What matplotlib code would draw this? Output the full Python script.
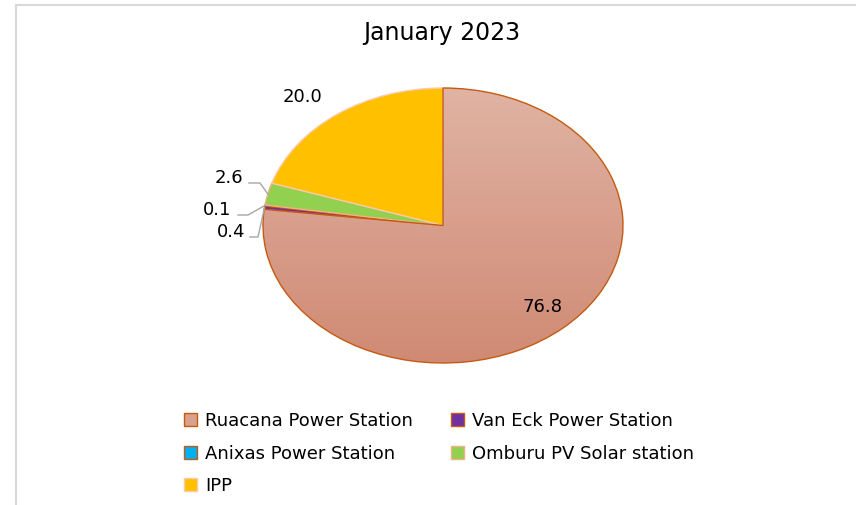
import numpy as np
import matplotlib
matplotlib.use("Agg")
import matplotlib.pyplot as plt
from matplotlib.lines import Line2D

plt.rcParams['font.family'] = ['DejaVu Sans']

title = "January 2023"
categories = ["Ruacana Power Station", "Van Eck Power Station", "Anixas Power Station",
              "Omburu PV Solar station", "IPP"]
values = [76.8, 0.4, 0.1, 2.6, 20.0]
labels = ["76.8", "0.4", "0.1", "2.6", "20.0"]
colors = ["#D9A08C", "#7030A0", "#00B0F0", "#92D050", "#FFC000"]
edges = ["#C55A11", "#C55A11", "#C55A11", "#F4B183", "#F8CBAD"]

W, H = 856, 505
fig = plt.figure(figsize=(W / 100, H / 100), dpi=100)

# border lines (left and top)
fig.add_artist(Line2D([16 / W, 16 / W], [0, 1 - 5 / H], color="#D9D9D9", lw=1.5))
fig.add_artist(Line2D([16 / W, 1], [1 - 5 / H, 1 - 5 / H], color="#D9D9D9", lw=1.5))

cx, cy, rx, ry = 443, 225.5, 180, 137.5
ax = fig.add_axes([(cx - rx) / W, 1 - (cy + ry) / H, 2 * rx / W, 2 * ry / H])

wedges, _ = ax.pie(values, colors=colors, startangle=90, counterclock=False,
                   wedgeprops=dict(linewidth=1.0), frame=False)
for w, e in zip(wedges, edges):
    w.set_edgecolor(e)
ax.set_xlim(-1, 1)
ax.set_ylim(-1, 1)
ax.set_aspect('auto')
ax.axis('off')

# legend: one entry per cell of a 2-column grid (row-major order)
col_x = [184, 451]
row_y = [421, 454, 486]
lfs = 13
for k, (w, name) in enumerate(zip(wedges, categories)):
    r, c = divmod(k, 2)
    fig.legend([w], [name], loc='center left',
               bbox_to_anchor=(col_x[c] / W, 1 - row_y[r] / H), frameon=False,
               fontsize=lfs, handlelength=0.7, handleheight=0.7,
               handletextpad=0.45, borderpad=0, borderaxespad=0)

# gradient fill on the Ruacana wedge
grad = np.linspace(0, 1, 256).reshape(-1, 1)
top = np.array(matplotlib.colors.to_rgb("#E0B3A3"))
bot = np.array(matplotlib.colors.to_rgb("#D08A74"))
img = top[None, None, :] * (1 - grad[..., None]) + bot[None, None, :] * grad[..., None]
im = ax.imshow(img, extent=(-1, 1, -1, 1), origin='upper', aspect='auto', zorder=1.5)
im.set_clip_path(wedges[0])
ax.set_xlim(-1, 1)
ax.set_ylim(-1, 1)
ax.set_aspect('auto')
wedges[0].set_facecolor('none')
wedges[0].set_zorder(2)

# data labels
fs = 13
def px2d(px, py):
    return ((px - cx) / rx, (cy - py) / ry)

ax.text(*px2d(543, 307), labels[0], ha='center', va='center', fontsize=fs)
ax.text(*px2d(303, 97), labels[4], ha='center', va='center', fontsize=fs)

cum = np.cumsum([0] + values)
tot = sum(values)
def edge_pt(i):
    a = np.deg2rad(90 - 360 * (cum[i] + cum[i + 1]) / 2 / tot)
    return np.cos(a), np.sin(a)

small = [(3, (229, 178), (249, 183), (260, 183)),
         (2, (217, 210), (238, 215), (248, 215)),
         (1, (231, 232), (250, 237), (258, 237))]
for i, tp, p1, p2 in small:
    ax.text(*px2d(*tp), labels[i], ha='center', va='center', fontsize=fs)
    ex, ey = edge_pt(i)
    a, b = px2d(*p1)
    c, d = px2d(*p2)
    ax.plot([a, c, ex], [b, d, ey], color="#A6A6A6", lw=1, clip_on=False, zorder=3)

fig.text(442 / W, 1 - 33 / H, title, ha='center', va='center', fontsize=17)

fig.savefig("out.png", dpi=100)
